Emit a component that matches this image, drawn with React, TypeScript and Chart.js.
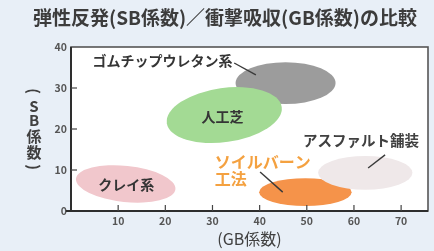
import React, { useEffect, useRef } from "react";
import { Chart, registerables } from "chart.js";

Chart.register(...registerables);

// ---- data ----
const categories = ["ゴムチップウレタン系", "人工芝", "クレイ系", "ソイルバーン工法", "アスファルト舗装"];
const gbCenter = [45.5, 32.5, 11.6, 49.7, 62.4];
const sbCenter = [31.2, 23.4, 6.6, 4.6, 9.3];
const gbHalfRange = [10.6, 12.3, 10.6, 9.8, 10.0];
const sbHalfRange = [5.1, 6.6, 4.4, 3.4, 4.1];
const labelLines = [["ゴムチップウレタン系"], ["人工芝"], ["クレイ系"], ["ソイルバーン", "工法"], ["アスファルト舗装"]];
const labelGB = [19.4, 32.1, 11.7, 30.5, 61.5];
const labelSB = [36.6, 22.9, 6.3, 12.0, 17.3];
const leaderFromGB = [34.6, null, null, 40.1, 66.6];
const leaderFromSB = [36.1, null, null, 9.5, 13.7];
const leaderToGB = [39.2, null, null, 44.9, 63.0];
const leaderToSB = [33.2, null, null, 4.6, 10.5];
const xTicks = [10, 20, 30, 40, 50, 60, 70];
const yTicks = [0, 10, 20, 30, 40];
const titleText = "弾性反発(SB係数)／衝撃吸収(GB係数)の比較";
const xTitle = "(GB係数)";
const yTitleChars = ["(", "S", "B", "係", "数", ")"];

// ---- styles ----
const FONT = "'Noto Sans CJK JP', 'Noto Sans', sans-serif";
const fillColors = ["#9c9c9c", "#a3da94", "#f1c7cc", "#f5934a", "#efe8e9"];
const tilt = [0, -8, 6, 0, 0];
const labelColors = ["#353535", "#353535", "#353535", "#f4a140", "#404040"];
const labelAlign: CanvasTextAlign[] = ["center", "center", "center", "left", "center"];
const labelSize = [14, 14, 14, 16, 14.5];

const customPlugin = {
  id: "custom",
  beforeDraw(chart: any) {
    const { ctx, chartArea: a } = chart;
    ctx.save();
    ctx.fillStyle = "#ffffff";
    ctx.fillRect(a.left, a.top, a.right - a.left, a.bottom - a.top);
    ctx.restore();
  },
  beforeDatasetsDraw(chart: any) {
    const { ctx, chartArea: a } = chart;
    const x = chart.scales.x;
    const y = chart.scales.y;
    ctx.save();
    ctx.beginPath();
    ctx.rect(a.left, a.top, a.right - a.left, a.bottom - a.top);
    ctx.clip();
    categories.forEach((_, i) => {
      const cx = x.getPixelForValue(gbCenter[i]);
      const cy = y.getPixelForValue(sbCenter[i]);
      const rx = Math.abs(x.getPixelForValue(gbCenter[i] + gbHalfRange[i]) - cx);
      const ry = Math.abs(y.getPixelForValue(sbCenter[i] + sbHalfRange[i]) - cy);
      ctx.beginPath();
      ctx.ellipse(cx, cy, rx, ry, (tilt[i] * Math.PI) / 180, 0, Math.PI * 2);
      ctx.fillStyle = fillColors[i];
      ctx.fill();
    });
    ctx.restore();
  },
  afterDatasetsDraw(chart: any) {
    const { ctx } = chart;
    const x = chart.scales.x;
    const y = chart.scales.y;
    ctx.save();
    ctx.strokeStyle = "#3a3a3a";
    ctx.lineWidth = 1.4;
    categories.forEach((_, i) => {
      if (leaderFromGB[i] == null) return;
      ctx.beginPath();
      ctx.moveTo(x.getPixelForValue(leaderFromGB[i]), y.getPixelForValue(leaderFromSB[i]));
      ctx.lineTo(x.getPixelForValue(leaderToGB[i]), y.getPixelForValue(leaderToSB[i]));
      ctx.stroke();
    });
    categories.forEach((_, i) => {
      ctx.font = `bold ${labelSize[i]}px ${FONT}`;
      ctx.fillStyle = labelColors[i];
      ctx.textAlign = labelAlign[i];
      ctx.textBaseline = "middle";
      const px = x.getPixelForValue(labelGB[i]);
      const py = y.getPixelForValue(labelSB[i]);
      labelLines[i].forEach((line, j) => {
        ctx.fillText(line, px, py + j * 17);
      });
    });
    ctx.restore();
  },
  afterDraw(chart: any) {
    const { ctx, chartArea: a } = chart;
    const x = chart.scales.x;
    const y = chart.scales.y;
    ctx.save();
    ctx.strokeStyle = "#555";
    ctx.lineWidth = 1.6;
    ctx.strokeRect(a.left, a.top, a.right - a.left, a.bottom - a.top);
    ctx.strokeStyle = "#2e2e2e";
    ctx.lineWidth = 2;
    ctx.beginPath();
    ctx.moveTo(a.left - 5, a.bottom);
    ctx.lineTo(a.right, a.bottom);
    ctx.stroke();
    ctx.beginPath();
    ctx.moveTo(a.left, a.top);
    ctx.lineTo(a.left, a.bottom);
    ctx.stroke();
    ctx.strokeStyle = "#444";
    ctx.lineWidth = 1.2;
    x.ticks.forEach((t: any) => {
      const px = x.getPixelForValue(t.value);
      ctx.beginPath();
      ctx.moveTo(px, a.bottom);
      ctx.lineTo(px, a.bottom - 6);
      ctx.stroke();
    });
    y.ticks.forEach((t: any) => {
      if (t.value === 0 || t.value === 40) return;
      const py = y.getPixelForValue(t.value);
      ctx.beginPath();
      ctx.moveTo(a.left, py);
      ctx.lineTo(a.left + 6, py);
      ctx.stroke();
    });
    // vertical y-axis title, upright characters, parentheses turned
    ctx.font = `bold 15px ${FONT}`;
    ctx.fillStyle = "#404040";
    ctx.textAlign = "center";
    ctx.textBaseline = "middle";
    const centers = [92, 107, 121, 137, 153, 168];
    const mid = (a.top + a.bottom) / 2;
    const base = (centers[0] + centers[centers.length - 1]) / 2;
    yTitleChars.forEach((c, k) => {
      const cy = mid + (centers[k] - base);
      if (c === "(" || c === ")") {
        ctx.save();
        ctx.translate(34, cy);
        ctx.rotate(Math.PI / 2);
        ctx.fillText(c, 0, 0);
        ctx.restore();
      } else {
        ctx.fillText(c, 34, cy);
      }
    });
    ctx.restore();
  },
};

export default function App() {
  const ref = useRef<HTMLCanvasElement>(null);
  useEffect(() => {
    document.body.style.margin = "0";
    const chart = new Chart(ref.current as HTMLCanvasElement, {
      type: "scatter",
      data: {
        datasets: [
          {
            label: "範囲",
            data: categories.map((_, i) => ({ x: gbCenter[i], y: sbCenter[i] })),
            pointRadius: 0,
            pointHoverRadius: 0,
          },
        ],
      },
      options: {
        responsive: false,
        animation: false,
        layout: { padding: { left: 22, right: 6, top: 0, bottom: 0 } },
        plugins: {
          legend: { display: false },
          tooltip: { enabled: false },
          title: {
            display: true,
            text: titleText,
            color: "#3c3c3c",
            font: { family: FONT, size: 19, weight: "bold" },
            padding: { top: 6.5, bottom: 17.7 },
          },
        },
        scales: {
          x: {
            type: "linear",
            min: 0,
            max: 75.7,
            afterBuildTicks: (s: any) => {
              s.ticks = xTicks.map((v) => ({ value: v }));
            },
            afterFit: (s: any) => {
              s.height = 40;
            },
            grid: { display: false, drawTicks: false },
            border: { display: false },
            ticks: {
              color: "#555",
              font: { family: FONT, size: 10.5, weight: "bold" },
              padding: 4,
              autoSkip: false,
              maxRotation: 0,
            },
            title: {
              display: true,
              text: xTitle,
              color: "#404040",
              font: { family: FONT, size: 16 },
              padding: { top: 0, bottom: 2 },
            },
          },
          y: {
            type: "linear",
            min: 0,
            max: 40,
            afterBuildTicks: (s: any) => {
              s.ticks = yTicks.map((v) => ({ value: v }));
            },
            afterFit: (s: any) => {
              s.width = 49;
            },
            grid: { display: false, drawTicks: false },
            border: { display: false },
            ticks: {
              color: "#555",
              font: { family: FONT, size: 10.5, weight: "bold" },
              padding: 4,
            },
          },
        },
      },
      plugins: [customPlugin],
    } as any);
    return () => chart.destroy();
  }, []);
  return (
    <div style={{ width: 434, height: 251, background: "#e8eff7" }}>
      <canvas ref={ref} width={434} height={251} style={{ display: "block" }} />
    </div>
  );
}
